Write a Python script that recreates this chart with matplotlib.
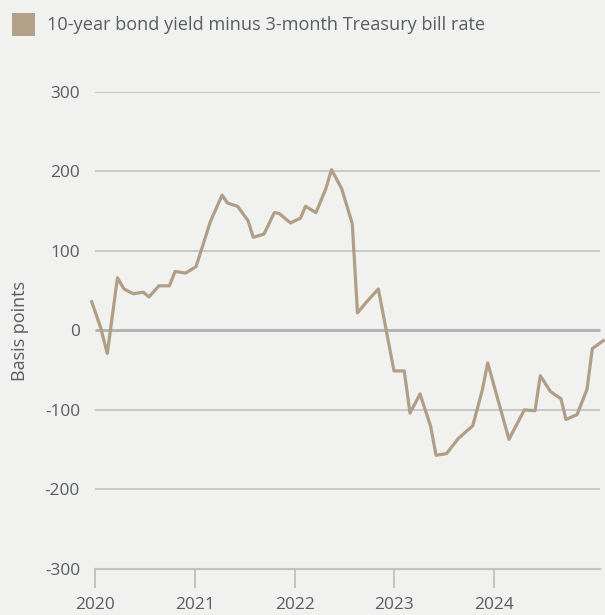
import matplotlib.pyplot as plt

# spread between 10-year yield and 3-month bill, in basis points
dates = [
    2019.967, 2020.055, 2020.123, 2020.225, 2020.291, 2020.384, 2020.484,
    2020.541, 2020.641, 2020.746, 2020.802, 2020.907, 2021.012, 2021.157,
    2021.273, 2021.328, 2021.428, 2021.533, 2021.586, 2021.693, 2021.797,
    2021.844, 2021.959, 2022.059, 2022.109, 2022.214, 2022.310, 2022.370,
    2022.472, 2022.578, 2022.630, 2022.730, 2022.839, 2022.996, 2023.099,
    2023.156, 2023.257, 2023.364, 2023.417, 2023.522, 2023.640, 2023.785,
    2023.881, 2023.935, 2024.148, 2024.302, 2024.409, 2024.462, 2024.564,
    2024.669, 2024.719, 2024.830, 2024.930, 2024.983, 2025.093,
]
spread = [
    36, 4, -29, 66, 52, 46, 48,
    42, 56, 56, 74, 72, 80, 137,
    170, 160, 156, 138, 117, 121, 148,
    147, 135, 141, 156, 148, 177, 202,
    178, 134, 22, 37, 52, -51, -51,
    -104, -80, -121, -157, -155, -136, -120,
    -75, -41, -137, -100, -101, -57, -77,
    -86, -112, -106, -74, -23, -13,
]
years = [2020, 2021, 2022, 2023, 2024]
yticks = [-300, -200, -100, 0, 100, 200, 300]
label = "10-year bond yield minus 3-month Treasury bill rate"

bg = "#f1f1ef"
line_color = "#b09e87"
text_color = "#585d64"
grid_color = "#c2c2c2"

plt.rcParams["font.family"] = ["Open Sans", "DejaVu Sans"]

fig = plt.figure(figsize=(6.05, 6.15), dpi=100, facecolor=bg)
W, H = 605, 615
left_px, right_px, top_px, bot_px = 91, 605, 91.7, 569
ax = fig.add_axes([left_px / W, 1 - bot_px / H,
                   (right_px - left_px) / W, (bot_px - top_px) / H])
ax.set_facecolor(bg)

x0 = 2020 + (left_px - 95) / 99.8
x1 = 2020 + (right_px - 95) / 99.8
x_end = 2020 + (600 - 95) / 99.8
ax.set_xlim(x0, x1)
ax.set_ylim(-300, 300)

# horizontal grid starting at the first year, zero line heavier
for v in yticks[1:]:
    if v == 0:
        ax.hlines(v, 2020, x_end, color="#aeb0b2", lw=2.0, zorder=1)
    else:
        ax.hlines(v, 2020, x_end, color=grid_color, lw=1.2, zorder=1)

ax.plot(dates, spread, color=line_color, lw=2.3, zorder=3, clip_on=False)

for s in ["top", "right", "left"]:
    ax.spines[s].set_visible(False)
ax.spines["bottom"].set_color(grid_color)
ax.spines["bottom"].set_linewidth(1.6)
ax.spines["bottom"].set_bounds(2020, x_end)

ax.set_xticks(years)
ax.set_xticklabels([str(y) for y in years])
ax.set_yticks(yticks)
ax.set_yticklabels([str(v) for v in yticks])
ax.tick_params(axis="x", length=14, width=1.4, color=grid_color, pad=6.5,
               labelsize=12.4, labelcolor=text_color)
ax.tick_params(axis="y", length=0, pad=8, labelsize=12.4, labelcolor=text_color)

fig.text(20 / W, 1 - 331 / H, "Basis points", rotation=90, ha="center",
         va="center", fontsize=13, color=text_color)

# legend swatch and text
fig.patches.append(plt.Rectangle((12 / W, 1 - 36 / H), 23 / W, 23 / H,
                                 transform=fig.transFigure, facecolor="#b3a089",
                                 edgecolor="none"))
fig.text(47 / W, 1 - 24.5 / H, label, ha="left", va="center", fontsize=13.1,
         color=text_color)

fig.savefig("out.png", dpi=100, facecolor=bg)
